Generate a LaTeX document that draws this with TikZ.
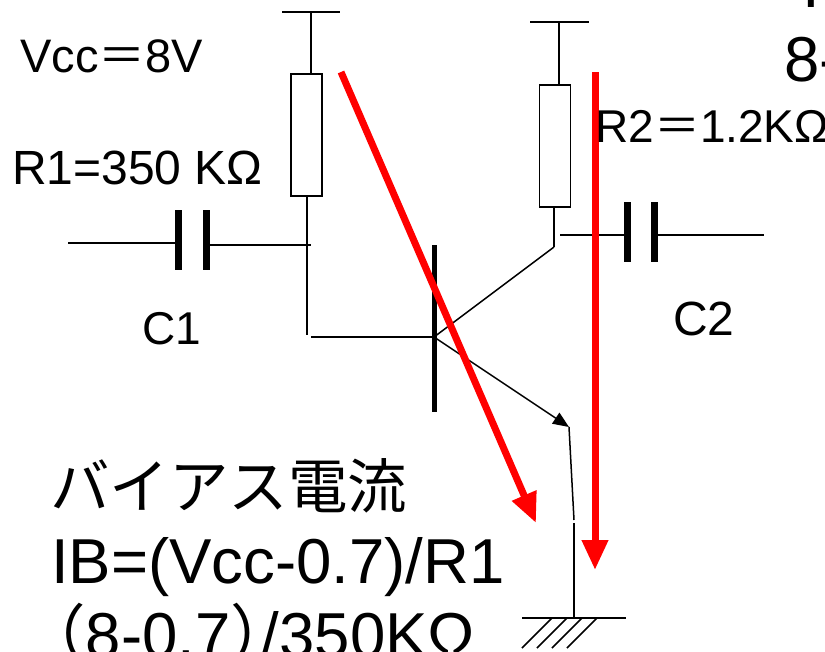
\documentclass[tikz,border=0pt]{standalone}
\usepackage{fontspec}
\setmainfont{Liberation Sans}
\newfontfamily\cjkfont{Noto Sans CJK JP}
\usetikzlibrary{arrows.meta}
\tikzset{
  wire/.style={draw=black,line width=1.5pt},
  plate/.style={draw=black,line width=7pt},
  resbox/.style={draw=black,line width=1.5pt,fill=white,minimum width=31pt,inner sep=0pt},
  lab/.style={anchor=base west,inner sep=0pt,font=\fontsize{48}{52}\selectfont},
  labs/.style={anchor=base west,inner sep=0pt,font=\fontsize{46}{50}\selectfont},
  big/.style={anchor=base west,inner sep=0pt,font=\fontsize{63.5}{68}\selectfont},
  redarrow/.style={draw=red,line width=7pt,-{Triangle[length=30pt,width=25pt,fill=red]}},
  smallarrow/.style={wire,-{Triangle[length=16pt,width=13pt,fill=black]}}
}
\begin{document}
\begin{tikzpicture}[x=1pt,y=-1pt]
\useasboundingbox (0,0) rectangle (825,651);
\clip (0,0) rectangle (825,651);
% resistors
\node[resbox,minimum height=122pt] (r1) at (306.5,135) {};
\node[resbox,minimum height=122pt] (r2) at (555,146) {};
% coordinates
\coordinate (r1topL) at (282,12);
\coordinate (r1topR) at (340,12);
\coordinate (r1top) at (311,12);
\coordinate (r1in) at (311,74);
\coordinate (r2topL) at (530,22);
\coordinate (r2topR) at (589,22);
\coordinate (r2top) at (559,22);
\coordinate (r2in) at (559,85);
\coordinate (r1out) at (307,196);
\coordinate (bturn) at (307,335);
\coordinate (bstart) at (311,337);
\coordinate (base) at (434,337);
\coordinate (barT) at (434,245);
\coordinate (barB) at (434,412);
\coordinate (c1a) at (178,210);
\coordinate (c1b) at (178,270);
\coordinate (c1c) at (206,210);
\coordinate (c1d) at (206,270);
\coordinate (inL) at (68,243);
\coordinate (inR) at (178,243);
\coordinate (c1R) at (206,245);
\coordinate (c1E) at (311,245);
\coordinate (r2out) at (554,207);
\coordinate (coll) at (554,247);
\coordinate (c2S) at (560,235);
\coordinate (c2L) at (627,235);
\coordinate (c2R) at (654,235);
\coordinate (c2E) at (764,235);
\coordinate (c2a) at (627,202);
\coordinate (c2b) at (627,262);
\coordinate (c2c) at (654,202);
\coordinate (c2d) at (654,262);
\coordinate (emit) at (569,427);
\coordinate (e2) at (574,520);
\coordinate (e3) at (574,523);
\coordinate (gnd) at (574,618);
\coordinate (gL) at (522,618);
\coordinate (gR) at (626,618);
% wires
\draw[wire] (r1topL) -- (r1topR);
\draw[wire] (r1top) -- (r1in);
\draw[wire] (r2topL) -- (r2topR);
\draw[wire] (r2top) -- (r2in);
\draw[wire] (r1out) -- (bturn);
\draw[wire] (bstart) -- (base);
\draw[wire] (inL) -- (inR);
\draw[wire] (c1R) -- (c1E);
\draw[wire] (r2out) -- (coll);
\draw[wire] (base) -- (coll);
\draw[wire] (c2S) -- (c2L);
\draw[wire] (c2R) -- (c2E);
\draw[smallarrow] (base) -- (emit);
\draw[wire] (emit) -- (e2);
\draw[wire] (e3) -- (gnd);
\draw[wire] (gL) -- (gR);
\foreach \i in {0,1,2,3} \draw[wire] (522+15*\i,648) -- (552+15*\i,618);
% plates
\draw[plate] (c1a) -- (c1b);
\draw[plate] (c1c) -- (c1d);
\draw[plate] (c2a) -- (c2b);
\draw[plate] (c2c) -- (c2d);
\draw[draw=black,line width=5pt] (barT) -- (barB);
% red arrows
\coordinate (ra1s) at (341,72);
\coordinate (ra1e) at (536,523);
\coordinate (ra2s) at (595,72);
\coordinate (ra2e) at (595,570);
\draw[redarrow] (ra1s) -- (ra1e);
\draw[redarrow] (ra2s) -- (ra2e);
% labels
\node[lab,font=\fontsize{47}{51}\selectfont] (vcc) at (20,72) {Vcc{\cjkfont ＝}8V};
\node[lab] (r1l) at (12,184) {R1=350 KΩ};
\node[labs] (r2l) at (595,142) {R2{\cjkfont ＝}1.2KΩ};
\node[labs] (c1l) at (142,344) {C1};
\node[lab] (c2l) at (673,335) {C2};
\node[big] (topI) at (802,7) {I};
\node[big] (eight) at (784,81) {8-};
\node[big,font=\fontsize{59.5}{66}\selectfont] (bias) at (50,508) {\cjkfont バイアス電流};
\node[big] (ib) at (51,583) {IB=(Vcc-0.7)/R1};
\node[big] (calc) at (22,657) {{\cjkfont （}8-0.7{\cjkfont ）}\hspace*{-32pt}/350KΩ};
\end{tikzpicture}
\end{document}
